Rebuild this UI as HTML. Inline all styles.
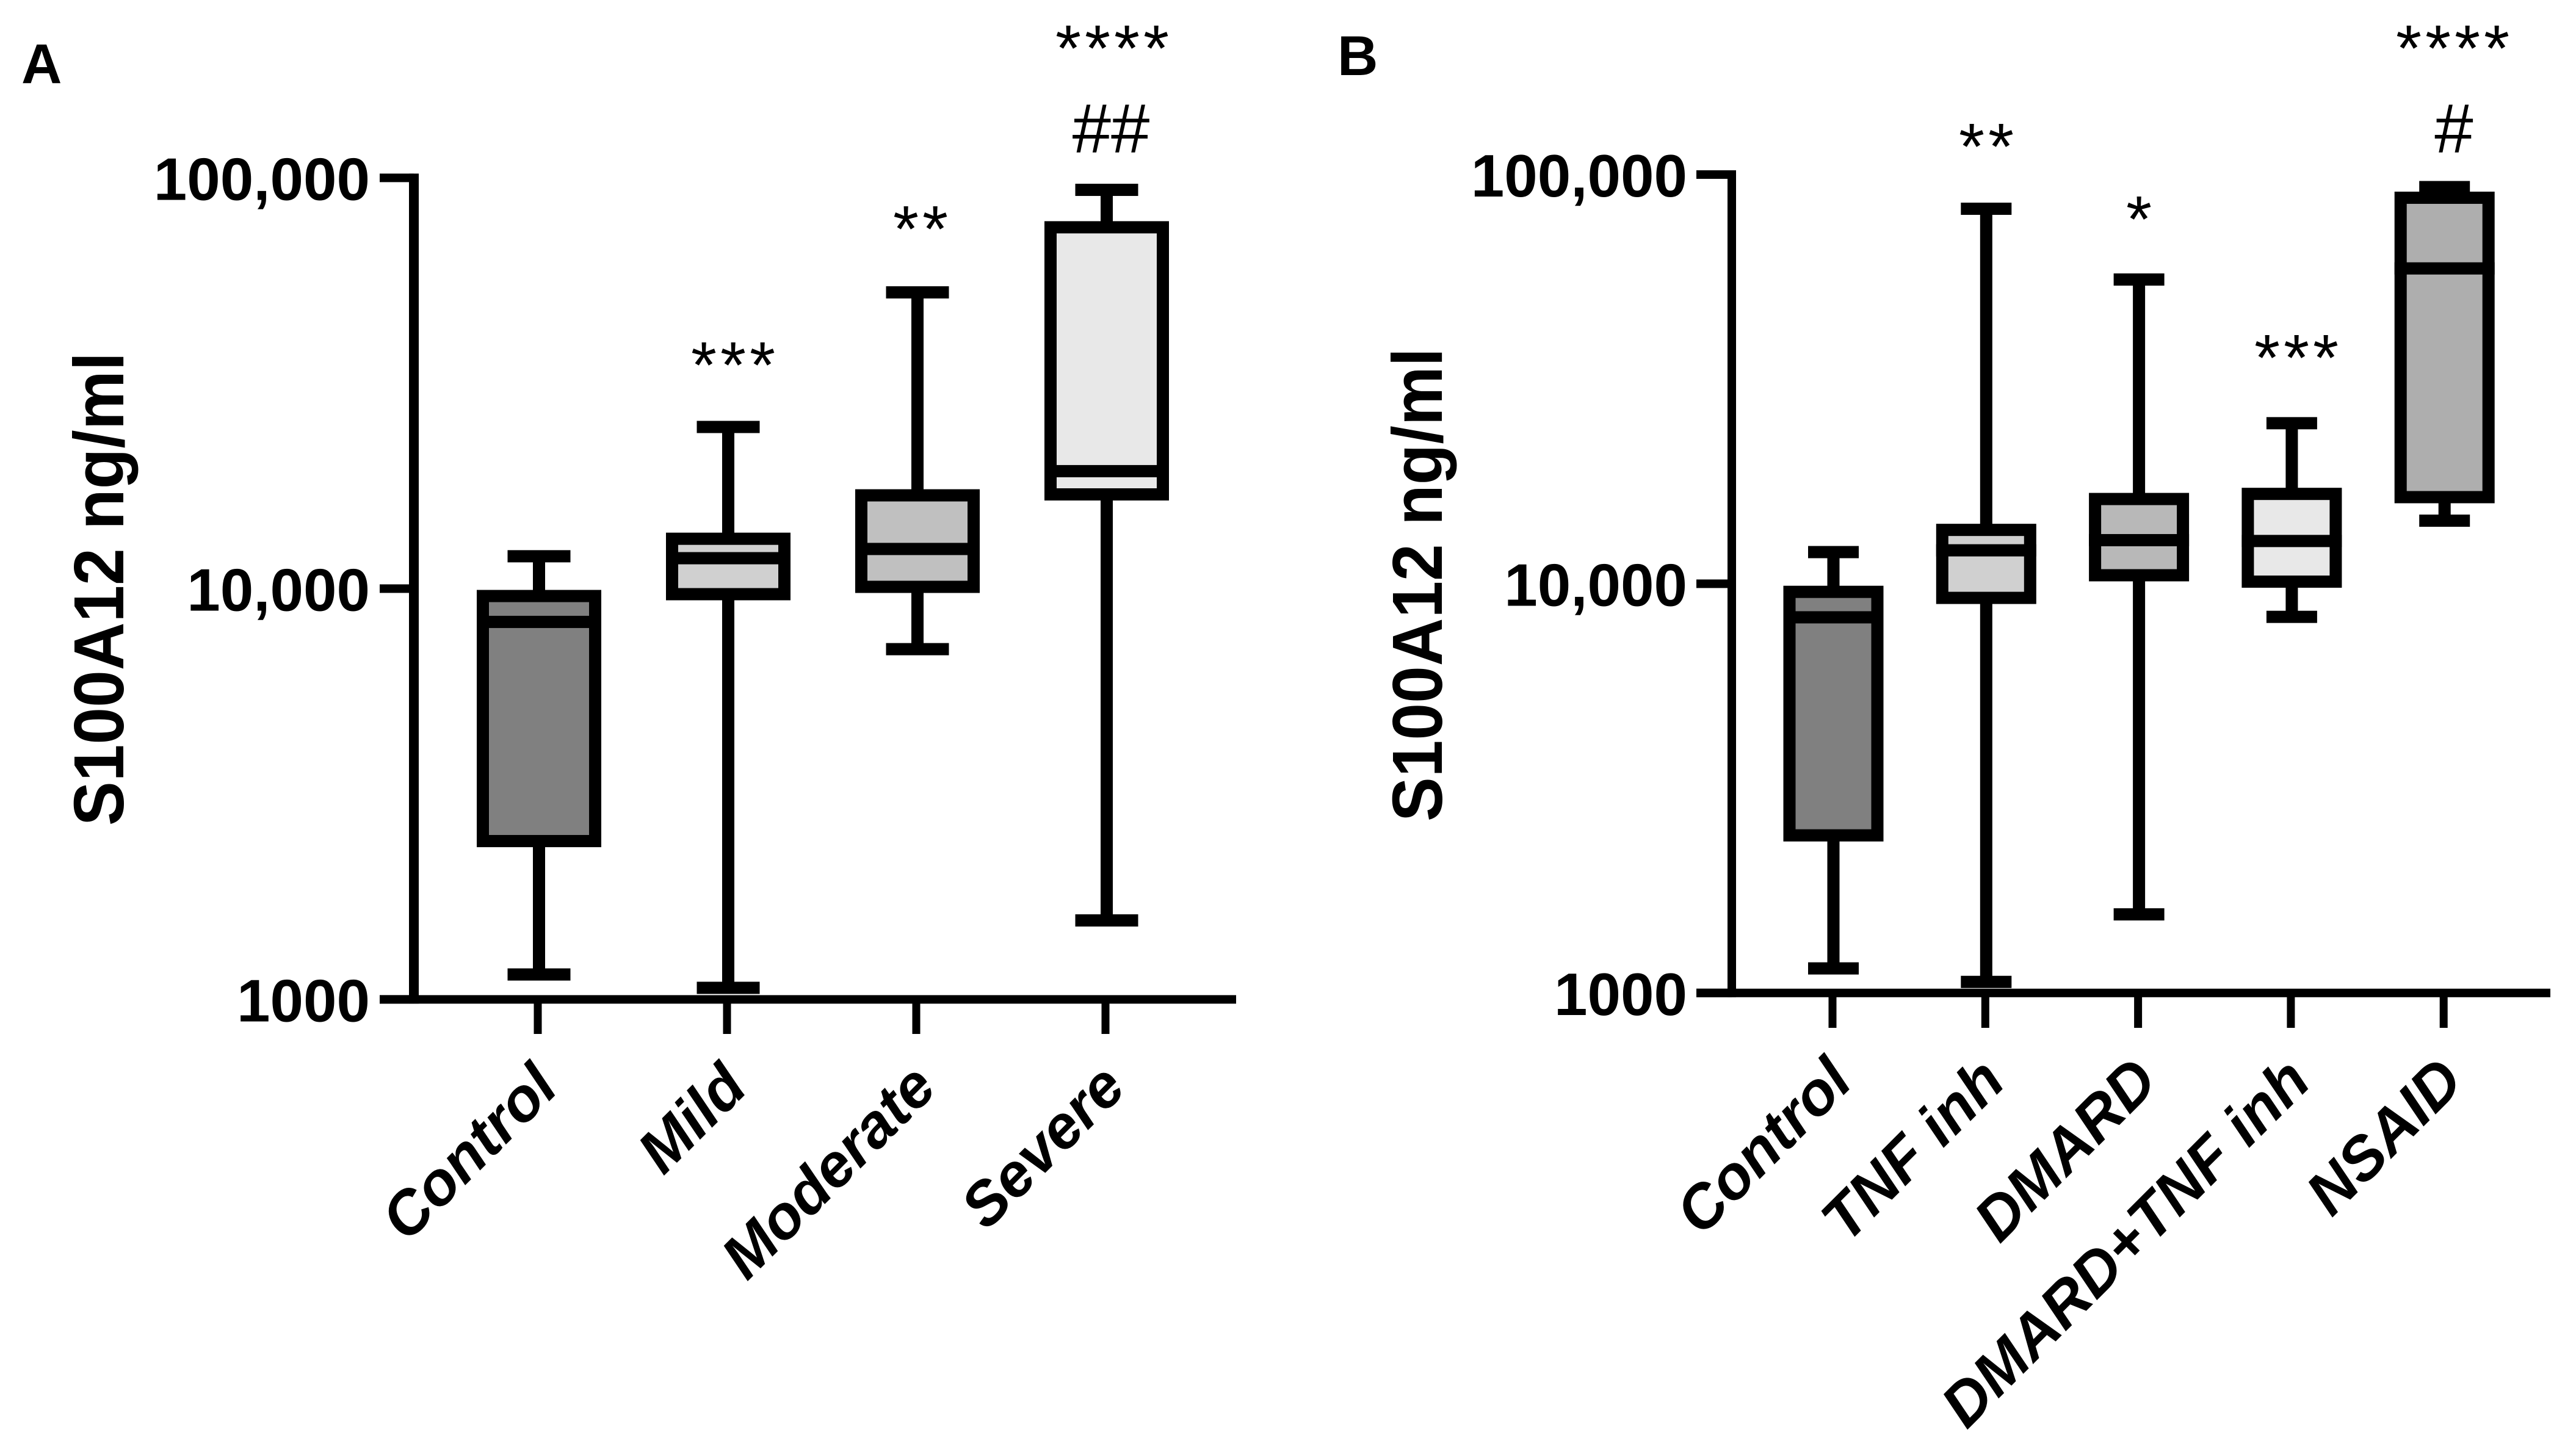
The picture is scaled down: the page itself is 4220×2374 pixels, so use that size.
<!DOCTYPE html>
<html lang="en">
<head>
<meta charset="utf-8">
<title>S100A12 box plots</title>
<style>
html,body{margin:0;padding:0;background:#fff;width:4220px;height:2374px;overflow:hidden}
svg{display:block;font-family:"Liberation Sans",Arial,sans-serif}
.panel{font-size:92px;font-weight:700}
.tick{font-size:98px;font-weight:700;text-anchor:end}
.cat{font-size:100px;font-weight:700;font-style:italic;text-anchor:end}
.ytitle{font-size:116px;font-weight:700;text-anchor:middle}
.sig{font-size:108px;text-anchor:middle;letter-spacing:6px}
.hash{font-size:114px;text-anchor:middle}
</style>
</head>
<body>
<svg id="figure" xmlns="http://www.w3.org/2000/svg" width="4220" height="2374" viewBox="0 0 4220 2374">
  <rect width="4220" height="2374" fill="#fff"/>
  <g id="chart-a"></g>
  <g id="chart-b"></g>

  <text class="panel" x="35" y="136">A</text>
  <text class="panel" x="2191" y="123">B</text>

  <text class="ytitle" transform="translate(202 965) rotate(-90)" textLength="776" lengthAdjust="spacingAndGlyphs">S100A12 ng/ml</text>
  <text class="ytitle" transform="translate(2362 958) rotate(-90)" textLength="776" lengthAdjust="spacingAndGlyphs">S100A12 ng/ml</text>

  <text class="sig" x="1204" y="635">***</text>
  <text class="sig" x="1511" y="412">**</text>
  <text class="sig" x="1825" y="116">****</text>
  <text class="hash" x="1820" y="250">##</text>

  <text class="sig" x="3257" y="277">**</text>
  <text class="sig" x="3507" y="396">*</text>
  <text class="sig" x="3765" y="623">***</text>
  <text class="sig" x="4021" y="116">****</text>
  <text class="hash" x="4020" y="250">#</text>
</svg>

<script>
// Shared y-axis ticks
const yTickValues = [1000, 10000, 100000];
const yTickLabels = ['1000', '10,000', '100,000'];

// Panel A data
const aCategories = ['Control', 'Mild', 'Moderate', 'Severe'];
const aMax    = [11990, 24750, 52630, 93500];
const aQ3     = [9594, 13226, 16870, 75800];
const aMedian = [8298, 11860, 12490, 19320];
const aQ1     = [2429, 9694, 10100, 16960];
const aMin    = [1150, 1067, 7123, 1557];
const aFills  = ['#808080', '#d0d0d0', '#c0c0c0', '#e8e8e8'];

// Panel B data
const bCategories = ['Control', 'TNF inh', 'DMARD', 'DMARD+TNF inh', 'NSAID'];
const bMax    = [11950, 82500, 55400, 24680, 93200];
const bQ3     = [9554, 13540, 16110, 16580, 87770];
const bMedian = [8279, 12070, 12780, 12720, 58970];
const bQ1     = [2427, 9235, 10490, 10120, 16280];
const bMin    = [1148, 1064, 1556, 8300, 14260];
const bFills  = ['#808080', '#d0d0d0', '#b8b8b8', '#e8e8e8', '#aeaeae'];

const SVG_NS = 'http://www.w3.org/2000/svg';

function rectEl(parent, x, y, w, h, fill) {
  const el = document.createElementNS(SVG_NS, 'rect');
  el.setAttribute('x', x);
  el.setAttribute('y', y);
  el.setAttribute('width', w);
  el.setAttribute('height', h);
  el.setAttribute('fill', fill);
  parent.appendChild(el);
  return el;
}

function drawPanel(host, prefix, cfg, categories, mins, q1s, medians, q3s, maxs, fills) {
  const yScale = v => cfg.y1000 - cfg.decade * Math.log10(v / 1000);
  const xScale = i => cfg.x0 + i * cfg.step;
  const T = 20;

  // y axis line
  const yAxis = rectEl(host, cfg.axisX - cfg.axisW / 2, yScale(100000) - 7, cfg.axisW, yScale(1000) - yScale(100000) + 14, '#000');
  
  

  // x axis line
  const xAxis = rectEl(host, cfg.tickLeft, yScale(1000) - 7, cfg.axisEnd - cfg.tickLeft, 14, '#000');
  
  

  // y ticks and labels
  yTickValues.forEach((v, i) => {
    const tick = rectEl(host, cfg.tickLeft, yScale(v) - 7, cfg.axisX - cfg.tickLeft, 14, '#000');
    
    

    const label = document.createElementNS(SVG_NS, 'text');
    label.setAttribute('class', 'tick');
    label.setAttribute('x', cfg.tickLabelX);
    label.setAttribute('y', yScale(v) + 36);
    label.textContent = yTickLabels[i];
    
    
    host.appendChild(label);
  });

  categories.forEach((cat, i) => {
    const cx = xScale(i);
    const slug = cat.toLowerCase().replace(/[^a-z0-9]+/g, '-');

    // x tick
    const tick = rectEl(host, cx + cfg.tickOffset - 6.5, yScale(1000), 13, cfg.tickBottom - yScale(1000), '#000');
    
    

    // x label
    const label = document.createElementNS(SVG_NS, 'text');
    label.setAttribute('class', 'cat');
    label.setAttribute('transform', 'translate(' + (cx + cfg.labelDx) + ' ' + cfg.labelY + ') rotate(-45)');
    label.textContent = cat;
    
    
    host.appendChild(label);

    // whisker
    const whisker = rectEl(host, cx - T / 2, yScale(maxs[i]), T, yScale(mins[i]) - yScale(maxs[i]), '#000');
    
    

    // caps
    const capHi = rectEl(host, cx - cfg.capW / 2, yScale(maxs[i]) - T / 2, cfg.capW, T, '#000');
    
    

    const capLo = rectEl(host, cx - cfg.capW / 2, yScale(mins[i]) - T / 2, cfg.capW, T, '#000');
    
    

    // box
    const box = rectEl(host, cx - cfg.boxW / 2 + T / 2, yScale(q3s[i]), cfg.boxW - T, yScale(q1s[i]) - yScale(q3s[i]), fills[i]);
    box.setAttribute('stroke', '#000');
    box.setAttribute('stroke-width', T);
    
    

    // median
    const median = rectEl(host, cx - cfg.boxW / 2, yScale(medians[i]) - T / 2, cfg.boxW, T, '#000');
    
    
  });
}

drawPanel(document.getElementById('chart-a'), 'a', {
  y1000: 1637.4, decade: 673, x0: 883, step: 310, tickOffset: -2,
  axisX: 678, axisW: 16, tickLeft: 622, axisEnd: 2025, tickBottom: 1694,
  tickLabelX: 606, boxW: 204, capW: 103, labelDx: 35, labelY: 1786
}, aCategories, aMin, aQ1, aMedian, aQ3, aMax, aFills);

drawPanel(document.getElementById('chart-b'), 'b', {
  y1000: 1626.8, decade: 670.4, x0: 3003.5, step: 250.3, tickOffset: -1.5,
  axisX: 2837, axisW: 14, tickLeft: 2779, axisEnd: 4178, tickBottom: 1684,
  tickLabelX: 2764, boxW: 164, capW: 83, labelDx: 35, labelY: 1776
}, bCategories, bMin, bQ1, bMedian, bQ3, bMax, bFills);
</script>
</body>
</html>
